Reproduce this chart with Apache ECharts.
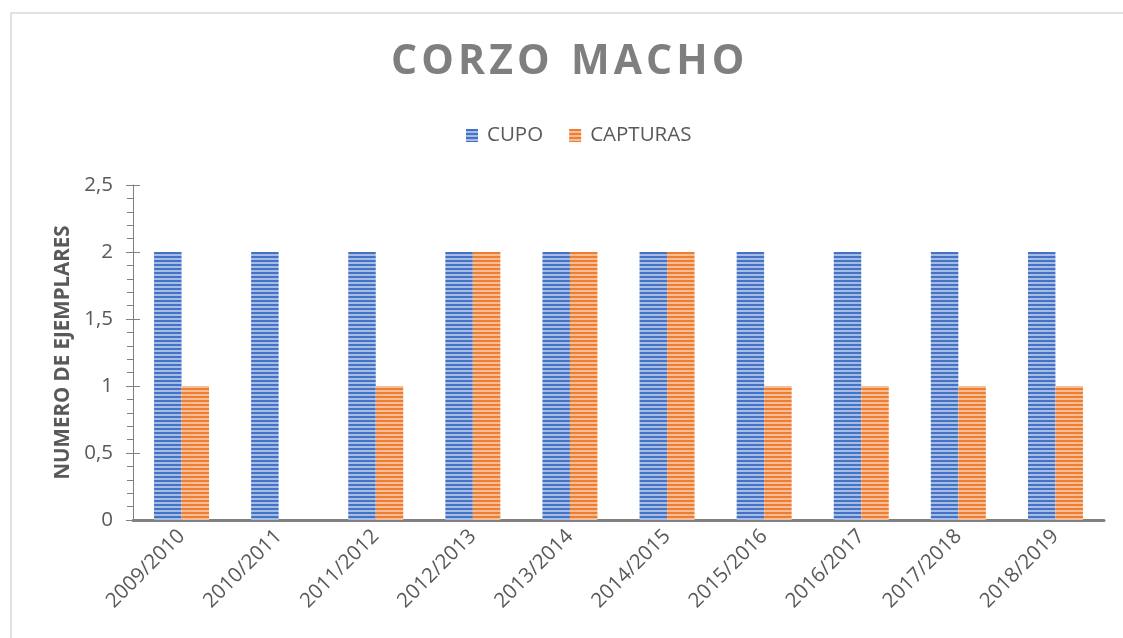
<!DOCTYPE html>
<html>
<head>
    <meta charset="utf-8" />
    <title>CORZO MACHO</title>
    <script src="https://cdn.jsdelivr.net/npm/echarts@6/dist/echarts.min.js"></script>
    <style>
        html, body { margin: 0; padding: 0; background: #fff; }
    </style>
</head>
<body>
    <div id="main" style="width: 1123px;height:638px;"></div>
    <script type="text/javascript">
        // datos
        var temporadas = ['2009/2010', '2010/2011', '2011/2012', '2012/2013', '2013/2014',
            '2014/2015', '2015/2016', '2016/2017', '2017/2018', '2018/2019'];
        var cupo = [2, 2, 2, 2, 2, 2, 2, 2, 2, 2];
        var capturas = [1, 0, 1, 2, 2, 2, 1, 1, 1, 1];

        // relleno rayado horizontal como en excel
        function rayas(oscuro, claro) {
            var c = document.createElement('canvas');
            c.width = 4; c.height = 4;
            var ctx = c.getContext('2d');
            ctx.fillStyle = claro;
            ctx.fillRect(0, 0, 4, 4);
            ctx.fillStyle = oscuro;
            ctx.fillRect(0, 0, 4, 2);
            return { image: c, repeat: 'repeat' };
        }

        var fuente = '"Open Sans", sans-serif';
        var gris = '#595959';

        var myChart = echarts.init(document.getElementById('main'));
        var option = {
            animation: false,
            textStyle: { fontFamily: fuente },
            title: {
                text: 'C\u200AO\u200AR\u200AZ\u200AO  M\u200AA\u200AC\u200AH\u200AO',
                left: 386,
                top: 37,
                textStyle: { fontSize: 41, fontWeight: 'bold', color: '#7f7f7f', fontFamily: fuente }
            },
            graphic: [{
                type: 'rect',
                shape: { x: 11, y: 13, width: 1200, height: 700 },
                style: { fill: null, stroke: '#d9d9d9', lineWidth: 1.5 },
                silent: true
            }],
            legend: {
                top: 120,
                left: 461,
                itemWidth: 12,
                itemHeight: 13,
                itemGap: 26,
                icon: 'rect',
                textStyle: { fontSize: 20.5, color: gris, fontFamily: fuente, padding: [0, 0, 0, 4] },
                data: ['CUPO', 'CAPTURAS']
            },
            grid: { left: 133, right: 19, top: 185, bottom: 118 },
            xAxis: {
                type: 'category',
                data: temporadas,
                axisLine: { lineStyle: { color: '#808080', width: 3 } },
                axisTick: { inside: true, length: 7, lineStyle: { color: '#808080', width: 3 } },
                axisLabel: { rotate: 45, fontSize: 20.5, color: gris, margin: 13, interval: 0 }
            },
            yAxis: [{
                type: 'value',
                min: 0,
                max: 2.5,
                interval: 0.5,
                name: 'NUMERO DE EJEMPLARES',
                nameLocation: 'middle',
                nameGap: 59,
                nameTextStyle: { fontSize: 20.5, fontWeight: 'bold', color: gris },
                axisLine: { show: true, lineStyle: { color: '#808080' } },
                axisTick: { show: true, length: 7, lineStyle: { color: '#808080' } },
                minorTick: { show: true, splitNumber: 5, length: 6, lineStyle: { color: '#808080' } },
                splitLine: { show: false },
                axisLabel: {
                    fontSize: 20.5, color: gris, margin: 20,
                    formatter: function (v) { return String(v).replace('.', ','); }
                }
            }, {
                type: 'value',
                position: 'left',
                min: 0,
                max: 2.5,
                interval: 0.5,
                axisLine: { show: false },
                axisTick: { show: true, inside: true, length: 7, lineStyle: { color: '#808080' } },
                splitLine: { show: false },
                axisLabel: { show: false }
            }],
            series: [{
                name: 'CUPO',
                type: 'bar',
                data: cupo,
                barWidth: 27.5,
                barGap: '0%',
                itemStyle: { color: rayas('#4472C4', '#A6BCE5') }
            }, {
                name: 'CAPTURAS',
                type: 'bar',
                data: capturas,
                barWidth: 27.5,
                itemStyle: { color: rayas('#ED7D31', '#F6BD96') }
            }]
        };
        myChart.setOption(option);
    </script>
</body>
</html>
